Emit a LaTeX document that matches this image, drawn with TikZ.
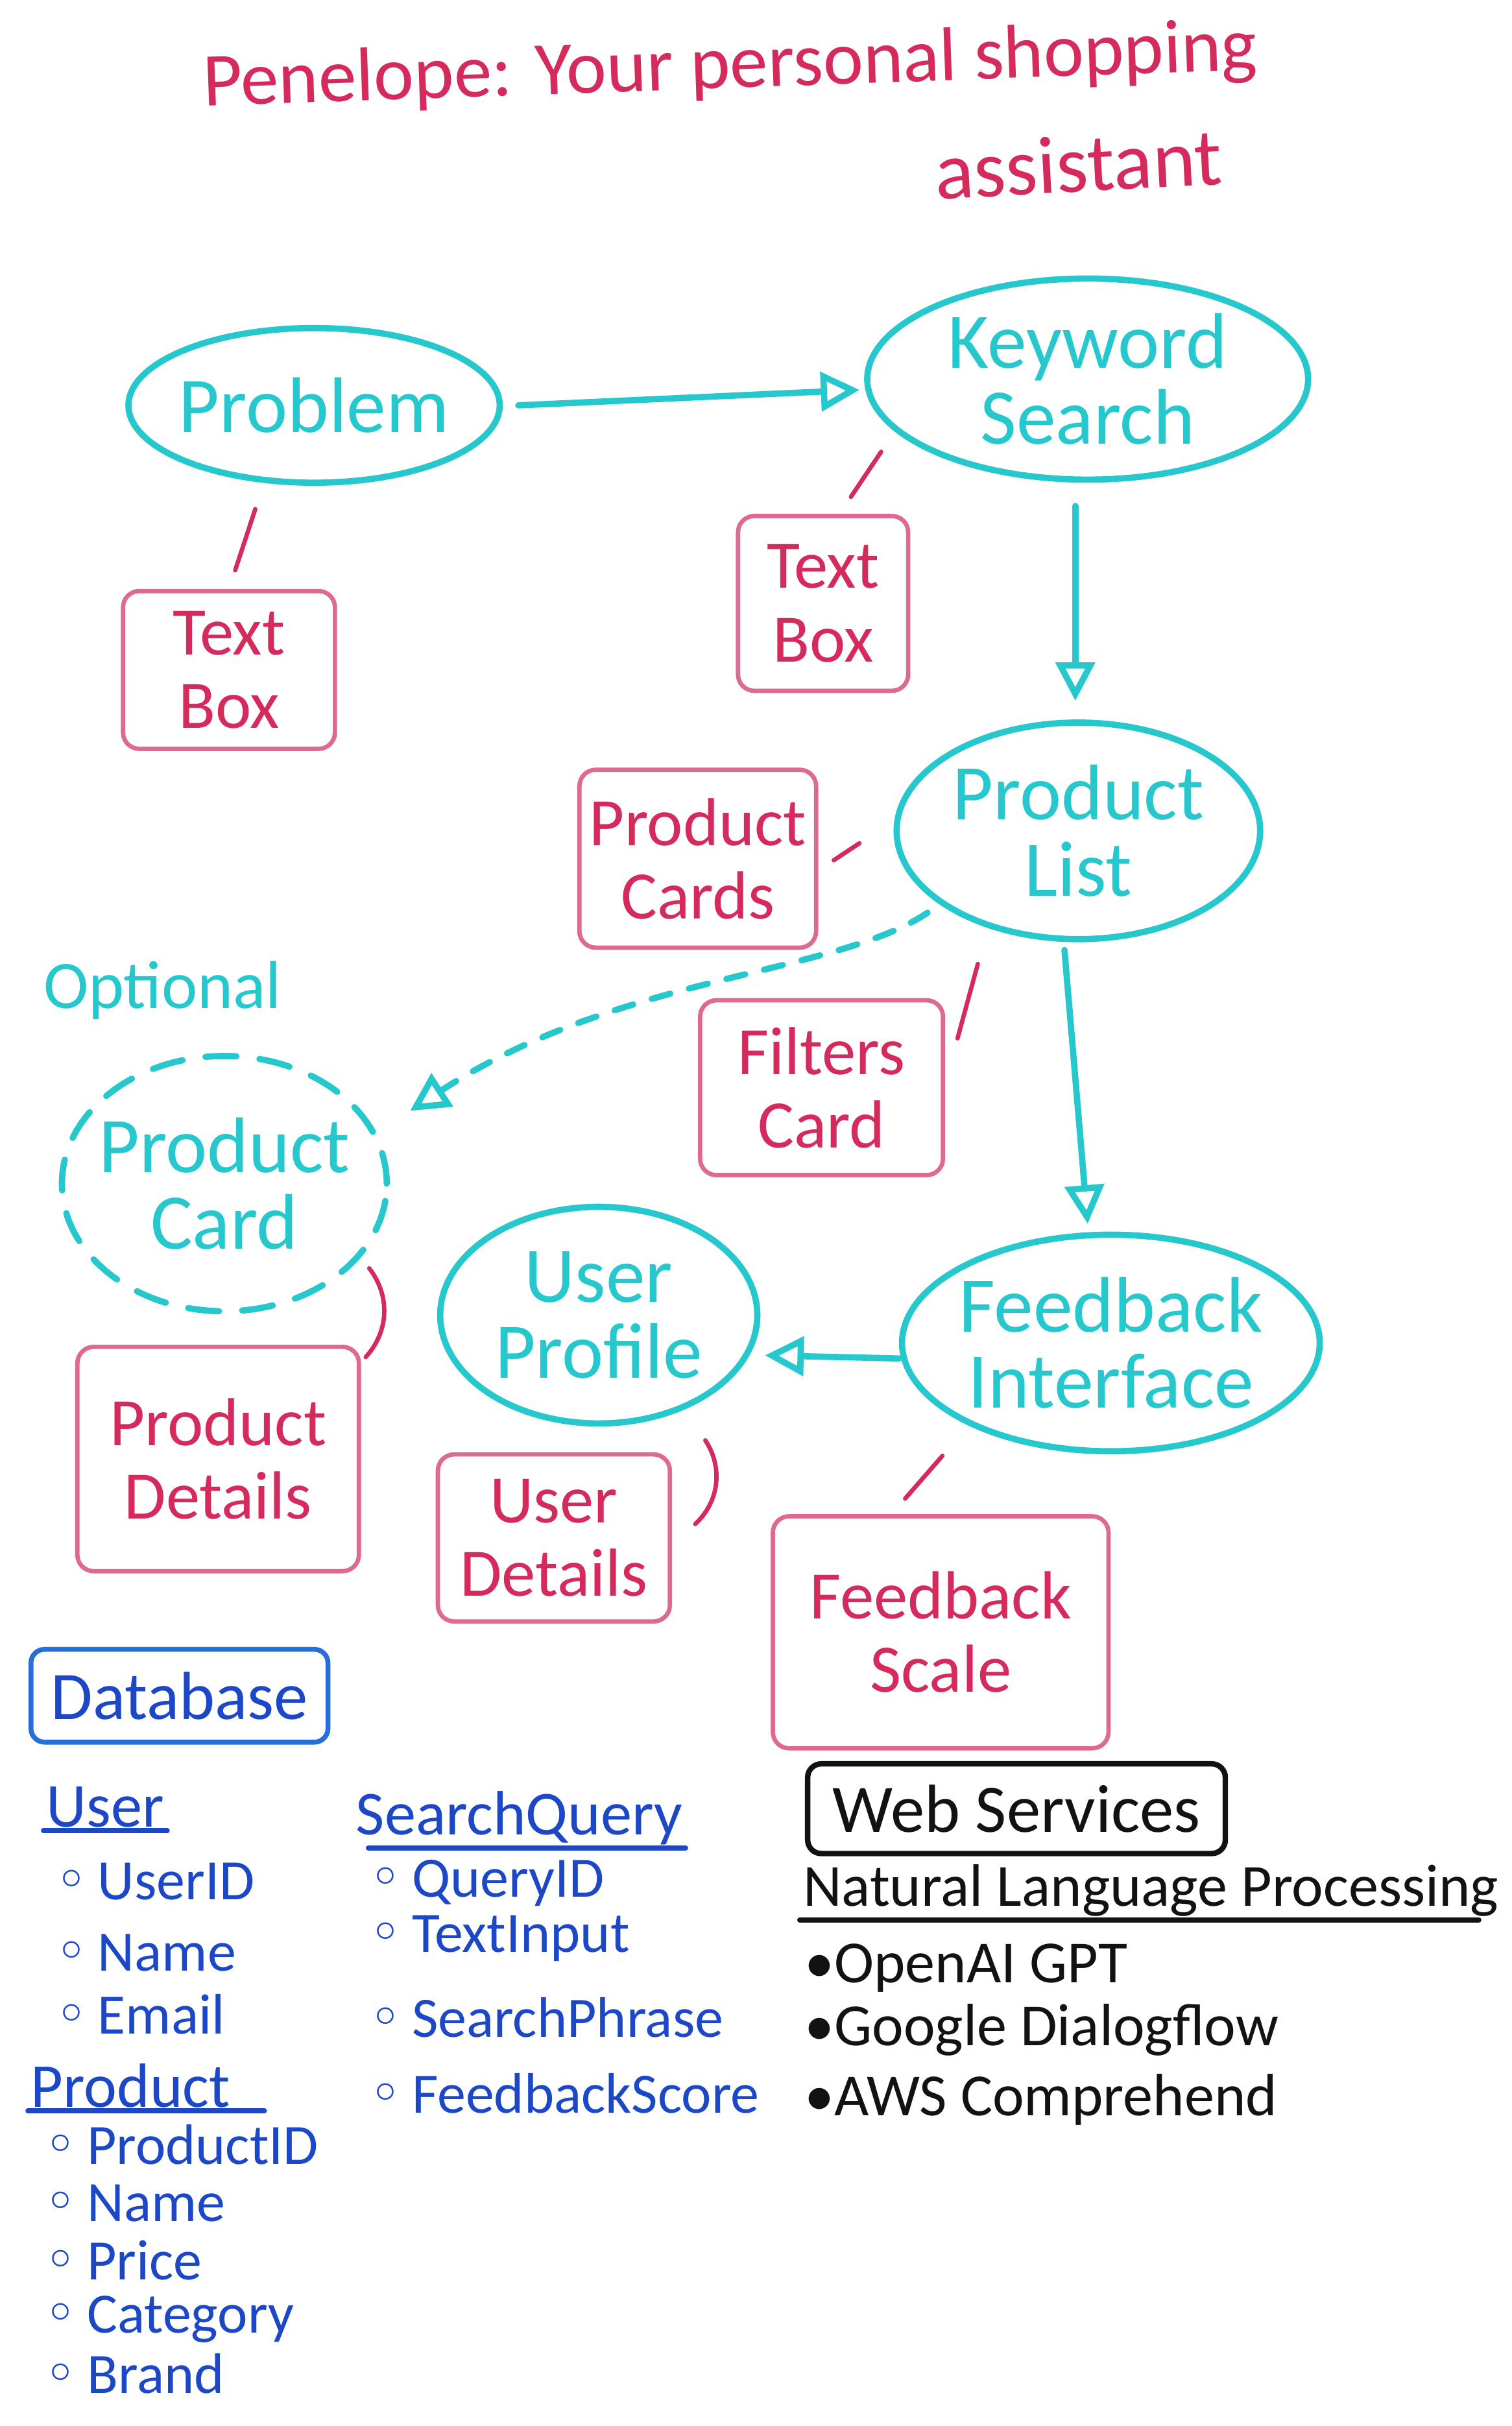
\documentclass[tikz,border=0pt]{standalone}
\usepackage{fontspec}
\setmainfont{Carlito}
\newfontfamily\dejavu{DejaVu Sans}
\usetikzlibrary{arrows.meta, positioning, shapes.geometric}
\usepackage{xcolor}
\definecolor{marker}{RGB}{38, 200, 205}
\definecolor{ink}{RGB}{212, 42, 92}
\definecolor{frame}{RGB}{222, 105, 145}
\definecolor{board}{RGB}{28, 72, 200}
\definecolor{dbframe}{RGB}{40, 110, 215}
\definecolor{pen}{RGB}{18, 18, 18}
\newcommand{\hollow}{{\dejavu ◦}}

\begin{document}
\begin{tikzpicture}[x=0.02cm, y=-0.02cm, line cap=round,
    idea/.style={draw=marker, ellipse, line width=2.3pt, text=marker, inner sep=-6pt, align=center, font=\fontsize{29}{28}\selectfont},
    notebox/.style={draw=frame, rectangle, rounded corners=6pt, line width=1.6pt, text=ink, align=center, font=\fontsize{25}{27}\selectfont},
    flow/.style={draw=marker, line width=2.3pt, -{Triangle[open, length=0.5cm, width=0.5cm]}},
    tick/.style={draw=ink, line width=1.6pt},
    dbhead/.style={text=board, inner sep=1pt, anchor=west, font=\fontsize{23}{24}\selectfont},
    dbitem/.style={text=board, inner sep=0pt, anchor=west, font=\fontsize{21}{22}\selectfont},
    webitem/.style={text=pen, inner sep=1pt, anchor=west, font=\fontsize{22}{24}\selectfont}]
    \fill[white] (0,0) rectangle (977,1568);
    \useasboundingbox (0,0) rectangle (977,1568);

    % Title
    \node[text=ink, rotate=2, inner sep=0pt, font=\fontsize{28}{30}\selectfont] (title) at (472,44) {Penelope: Your personal shopping};
    \node[text=ink, rotate=3, inner sep=0pt, font=\fontsize{30}{32}\selectfont] (subtitle) at (697,106) {assistant};

    % Screens
    \node[idea, minimum width=4.8cm, minimum height=2cm] (problem) at (203,262) {Problem};
    \node[idea, minimum width=5.7cm, minimum height=2.6cm] (kwsearch) at (703,245) {Keyword\\Search};
    \node[idea, minimum width=4.7cm, minimum height=2.8cm] (plist) at (697,537) {Product\\List};
    \node[idea, minimum width=5.4cm, minimum height=2.8cm] (fbint) at (718,868) {Feedback\\Interface};
    \node[idea, minimum width=4.1cm, minimum height=2.8cm] (uprofile) at (387,850) {User\\Profile};
    \node[idea, dash pattern=on 0.4cm off 0.3cm, minimum width=4.2cm, minimum height=3.3cm] (pcard) at (145,765) {Product\\Card};
    \node[text=marker, font=\fontsize{25}{26}\selectfont] (optional) at (105,640) {Optional};

    % Components
    \node[notebox, minimum width=2.74cm, minimum height=2.04cm] (textboxA) at (148,433) {Text\\Box};
    \node[notebox, minimum width=2.2cm, minimum height=2.26cm] (textboxB) at (532,390) {Text\\Box};
    \node[notebox, minimum width=3.06cm, minimum height=2.3cm] (pcards) at (451,555) {Product\\Cards};
    \node[notebox, minimum width=3.14cm, minimum height=2.26cm] (filters) at (531,703) {Filters\\Card};
    \node[notebox, minimum width=3.64cm, minimum height=2.9cm] (pdetails) at (141,943) {Product\\Details};
    \node[notebox, minimum width=3cm, minimum height=2.16cm] (udetails) at (358,994) {User\\Details};
    \node[notebox, minimum width=4.34cm, minimum height=3cm] (fbscale) at (608,1055) {Feedback\\Scale};

    % Flow
    \draw[flow] ([xshift=0.2cm]problem.east) -- ([shift={(-3,7)}]kwsearch.west);
    \draw[flow] ([shift={(-8,15)}]kwsearch.south) -- ([shift={(-2,-12)}]plist.north);
    \draw[flow] ([shift={(-9,5)}]plist.south) -- ([shift={(-15,-5)}]fbint.north);
    \draw[flow] ([shift={(0,10)}]fbint.west) -- ([shift={(3,26)}]uprofile.east);
    \draw[flow, dash pattern=on 0.25cm off 0.25cm] ([shift={(-13,2)}]plist.south west) .. controls (540,630) and (400,630) .. ([shift={(13,-47)}]pcard.east);

    % Links
    \draw[tick] ([shift={(-38,15)}]problem.south) -- ([shift={(4,-12)}]textboxA.north);
    \draw[tick] ([shift={(11,47)}]kwsearch.west) -- ([shift={(18,-11)}]textboxB.north);
    \draw[tick] ([shift={(-22,8)}]plist.west) -- ([shift={(10,1)}]pcards.east);
    \draw[tick] ([shift={(-65,14)}]plist.south) -- ([shift={(8,26)}]filters.north east);
    \draw[tick] ([shift={(18,-5)}]pcard.south east) to[bend left=40] ([shift={(3,8)}]pdetails.north east);
    \draw[tick] ([shift={(-5,30)}]uprofile.south east) to[bend left=40] ([shift={(15,-9)}]udetails.east);
    \draw[tick] ([shift={(-12,22)}]fbint.south west) -- ([shift={(-23,-10)}]fbscale.north);

    % Database
    \node[draw=dbframe, line width=1.8pt, rounded corners=5pt, text=board, minimum width=3.84cm, minimum height=1.2cm, font=\fontsize{25}{26}\selectfont] (dbbox) at (116,1096) {Database};
    \node[dbhead] (userhead) at (28,1168) {User};
    \draw[board, line width=1.8pt] (userhead.south west) -- (userhead.south east);
    \node[dbitem] (uid) at (35,1216) {\hollow\,UserID};
    \node[dbitem, below=0.92cm of uid.west, anchor=west] (uname) {\hollow\,Name};
    \node[dbitem, below=0.8cm of uname.west, anchor=west] (uemail) {\hollow\,Email};
    \node[dbhead] (prodhead) at (18,1348) {Product};
    \draw[board, line width=1.8pt] (prodhead.south west) -- ([xshift=0.4cm]prodhead.south east);
    \node[dbitem] (pid) at (28,1386) {\hollow\,ProductID};
    \node[dbitem, below=0.76cm of pid.west, anchor=west] (pname) {\hollow\,Name};
    \node[dbitem, below=0.74cm of pname.west, anchor=west] (pprice) {\hollow\,Price};
    \node[dbitem, below=0.76cm of pprice.west, anchor=west] (pcat) {\hollow\,Category};
    \node[dbitem, below=0.7cm of pcat.west, anchor=west] (pbrand) {\hollow\,Brand};
    \node[dbhead] (sqhead) at (228,1175) {SearchQuery};
    \draw[board, line width=1.8pt] ([xshift=0.2cm]sqhead.south west) -- (sqhead.south east);
    \node[dbitem] (qid) at (238,1217) {\hollow\,QueryID};
    \node[dbitem, below=0.72cm of qid.west, anchor=west] (qtext) {\hollow\,TextInput};
    \node[dbitem, below=1.02cm of qtext.west, anchor=west] (qphrase) {\hollow\,SearchPhrase};
    \node[dbitem, below=0.98cm of qphrase.west, anchor=west] (qscore) {\hollow\,FeedbackScore};

    % Web services
    \node[draw=pen, line width=2pt, rounded corners=5pt, text=pen, minimum width=5.4cm, minimum height=1.16cm, font=\fontsize{25}{26}\selectfont] (wsbox) at (657,1169) {Web Services};
    \node[webitem] (nlp) at (517,1222) {Natural Language Processing};
    \draw[pen, line width=2pt] (nlp.south west) -- ([xshift=-0.3cm]nlp.south east);
    \node[webitem] (gpt) at (518,1272) {•OpenAI GPT};
    \node[webitem, below=0.8cm of gpt.west, anchor=west] (dialog) {•Google Dialogflow};
    \node[webitem, below=0.9cm of dialog.west, anchor=west] (aws) {•AWS Comprehend};
\end{tikzpicture}
\end{document}
